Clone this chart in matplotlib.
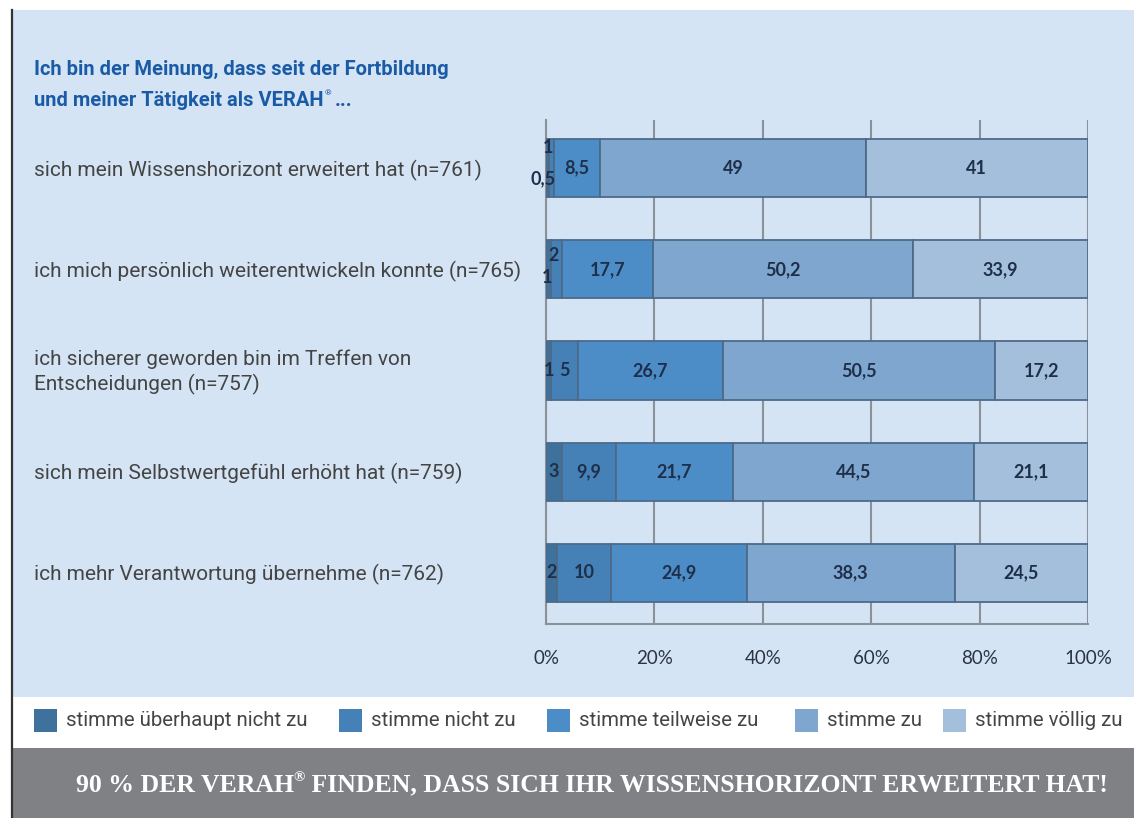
import matplotlib
matplotlib.use("Agg")
import matplotlib.pyplot as plt
from matplotlib.patches import Rectangle
import numpy as np

W, H = 1134, 818

# data (percent, as printed in the chart)
statements = [
    "sich mein Wissenshorizont erweitert hat (n=761)",
    "ich mich persönlich weiterentwickeln konnte (n=765)",
    "ich sicherer geworden bin im Treffen von\nEntscheidungen (n=757)",
    "sich mein Selbstwertgefühl erhöht hat (n=759)",
    "ich mehr Verantwortung übernehme (n=762)",
]
answers = ["stimme überhaupt nicht zu", "stimme nicht zu", "stimme teilweise zu",
           "stimme zu", "stimme völlig zu"]
not_at_all = [0.5, 1, 1, 3, 2]
disagree = [1, 2, 5, 9.9, 10]
partly = [8.5, 17.7, 26.7, 21.7, 24.9]
agree = [49, 50.2, 50.5, 44.5, 38.3]
fully = [41, 33.9, 17.2, 21.1, 24.5]
x_ticks = [0, 20, 40, 60, 80, 100]

colors = ["#3f719d", "#4581b6", "#4c8dc7", "#7ea6cf", "#a3bfdb"]
panel = "#d4e4f4"
navy = "#1f2f4a"

# label nudges for the tiny segments (row, segment) -> (dx %, dy rows)
nudge = {(0, 0): (-0.8, 0.11), (0, 1): (-0.6, -0.2),
         (1, 0): (-0.3, 0.08), (1, 1): (-0.6, -0.14)}


def fx(x):
    return x / W


def fy(y):
    return 1 - y / H


fig = plt.figure(figsize=(W / 100, H / 100), dpi=100)
fig.patch.set_facecolor("white")

# background bands
fig.patches.append(Rectangle((fx(12), fy(697)), 1, (697 - 10) / H, transform=fig.transFigure,
                             facecolor=panel, edgecolor="none", zorder=-5))
fig.patches.append(Rectangle((fx(12), 0), 1, (818 - 748) / H, transform=fig.transFigure,
                             facecolor="#808185", edgecolor="none", zorder=-5))
fig.lines.append(plt.Line2D([fx(11.5), fx(11.5)], [0, fy(10)], transform=fig.transFigure,
                            color="#333333", lw=1.6))

ax = fig.add_axes([fx(546), fy(624), (1088 - 546) / W, (624 - 120) / H])
ax.set_zorder(2)
ax.set_facecolor(panel)

data = np.array([not_at_all, disagree, partly, agree, fully]).T
shares = data / data.sum(axis=1, keepdims=True) * 100
ypos = np.arange(len(statements))
left = np.zeros(len(statements))
for j in range(shares.shape[1]):
    ax.barh(ypos, shares[:, j], left=left, height=0.574, color=colors[j],
            edgecolor="#4d6a88", linewidth=1.3, zorder=3)
    for i in range(len(statements)):
        dx, dy = nudge.get((i, j), (0, 0))
        txt = f"{data[i, j]:g}".replace(".", ",")
        ax.text(left[i] + shares[i, j] / 2 + dx, ypos[i] + dy, txt, ha="center", va="center",
                fontsize=13, fontweight="bold", color=navy, family="Lato", zorder=4)
    left += shares[:, j]

ax.set_xlim(0, 100)
ax.set_ylim(4.505, -0.475)
ax.set_yticks([])
ax.set_xticks(x_ticks)
ax.set_xticklabels([f"{t}%" for t in x_ticks], fontsize=13.5, color="#2b3340", family="Lato")
ax.tick_params(axis="x", length=0, pad=19)
ax.grid(axis="x", color="#8a9199", lw=1.5, zorder=1)
for s in ["top", "right"]:
    ax.spines[s].set_visible(False)
for s in ["left", "bottom"]:
    ax.spines[s].set_color("#8a9199")
    ax.spines[s].set_linewidth(1.5)

# question labels
for i, s in enumerate(statements):
    y = fy(170 + i * 101.2)
    fig.text(fx(34), y, s, ha="left", va="center", fontsize=15.0, color="#444444",
             family="Roboto", linespacing=1.3)

# title
tcol = "#1b5ba6"
fig.text(fx(34), fy(69), "Ich bin der Meinung, dass seit der Fortbildung", ha="left",
         va="center", fontsize=14.5, fontweight="bold", color=tcol, family="Roboto")
t2 = fig.text(fx(34), fy(101), "und meiner Tätigkeit als VERAH", ha="left", va="center",
              fontsize=14.5, fontweight="bold", color=tcol, family="Roboto")
fig.canvas.draw()
bb = t2.get_window_extent()
sup = fig.text(bb.x1 / W + 0.001, fy(93), "®", ha="left", va="center", fontsize=6,
               color=tcol, family="Roboto")
fig.canvas.draw()
bb2 = sup.get_window_extent()
fig.text(bb2.x1 / W + 0.003, fy(101), "...", ha="left", va="center", fontsize=14.5,
         fontweight="bold", color=tcol, family="Roboto")

# legend row
lx = [34, 339, 547, 795, 943]
for x, c, lab in zip(lx, colors, answers):
    fig.patches.append(Rectangle((fx(x), fy(732)), 23 / W, 23 / H, transform=fig.transFigure,
                                 facecolor=c, edgecolor="none"))
    fig.text(fx(x + 32), fy(721), lab, ha="left", va="center", fontsize=14.7,
             color="#444444", family="Roboto")

# footer banner, with a raised registered sign
fkw = dict(fontweight="bold", color="white", family="Liberation Serif")
parts = [("90 % DER VERAH", 18.5, 785), ("®", 11, 778),
         (" FINDEN, DASS SICH IHR WISSENSHORIZONT ERWEITERT HAT!", 18.5, 785)]
r = fig.canvas.get_renderer()
pieces = []
for s, fs, y in parts:
    t = fig.text(0, fy(y), s, ha="left", va="center", fontsize=fs, **fkw)
    pieces.append(t)
widths = [t.get_window_extent(r).width for t in pieces]
x0 = 592 - sum(widths) / 2
for t, w in zip(pieces, widths):
    t.set_x(fx(x0))
    x0 += w

fig.savefig("out.png", dpi=100, facecolor="white")
